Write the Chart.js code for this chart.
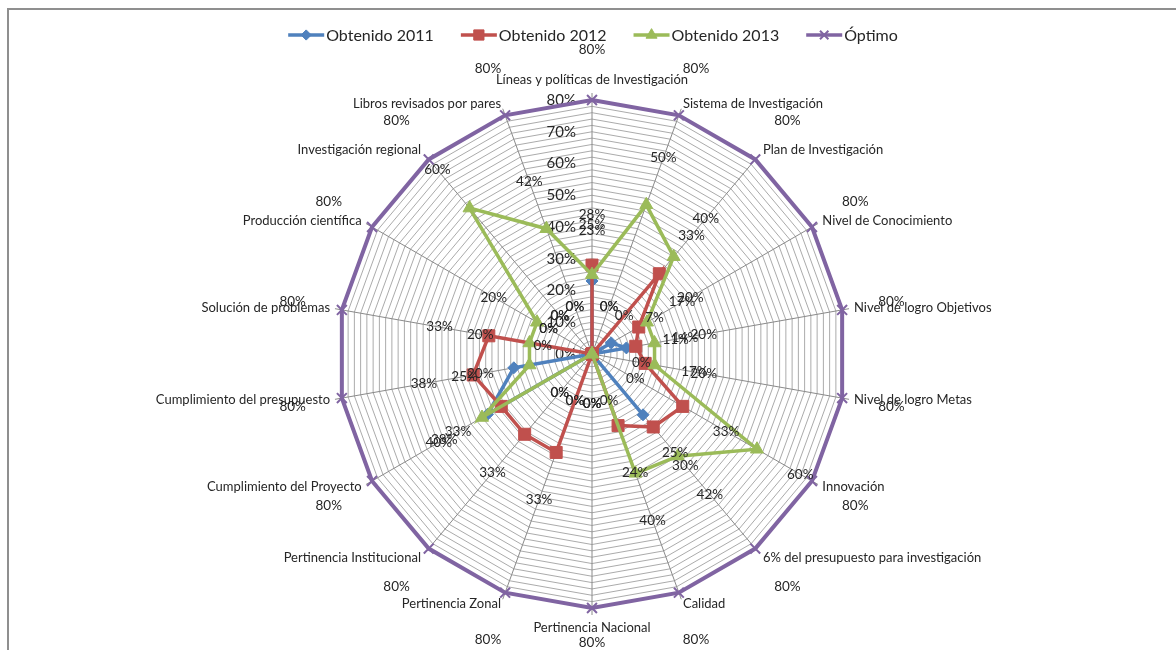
<!DOCTYPE html>
<html lang="es">
<head>
<meta charset="utf-8">
<title>Indicadores de investigación</title>
<script src="https://cdn.jsdelivr.net/npm/chart.js@4.4.1/dist/chart.umd.min.js"></script>
<style>
  html, body { margin: 0; padding: 0; background: #ffffff; }
  #wrap { width: 1176px; height: 650px; }
</style>
</head>
<body>
<div id="wrap"><canvas id="radar" width="1176" height="650"></canvas></div>
<script>
// Categories, clockwise from the top spoke
const categories = [
  'Líneas y políticas de Investigación',
  'Sistema de Investigación',
  'Plan de Investigación',
  'Nivel de Conocimiento',
  'Nivel de logro Objetivos',
  'Nivel de logro Metas',
  'Innovación',
  '6% del presupuesto para investigación',
  'Calidad',
  'Pertinencia Nacional',
  'Pertinencia Zonal',
  'Pertinencia Institucional',
  'Cumplimiento del Proyecto',
  'Cumplimiento del presupuesto',
  'Solución de problemas',
  'Producción científica',
  'Investigación regional',
  'Libros revisados por pares'
];

// Percentages per category
const obtenido2011 = [23, 0, 0, 7, 11, 0, 0, 25, 0, 0, 0, 0, 38, 25, 0, 0, 0, 0];
const obtenido2012 = [28, 0, 33, 17, 14, 17, 33, 30, 24, 0, 33, 33, 33, 38, 33, 0, 0, 0];
const obtenido2013 = [25, 50, 40, 20, 20, 20, 60, 42, 40, 0, 0, 0, 40, 20, 20, 20, 60, 42];
const optimo       = [80, 80, 80, 80, 80, 80, 80, 80, 80, 80, 80, 80, 80, 80, 80, 80, 80, 80];

// Axis labels shown along the top spoke
const tickValues = [0, 10, 20, 30, 40, 50, 60, 70, 80];

const seriesNames = ['Obtenido 2011', 'Obtenido 2012', 'Obtenido 2013', 'Óptimo'];
const seriesValues = [obtenido2011, obtenido2012, obtenido2013, optimo];
const seriesColors = ['#4F81BD', '#C0504D', '#9BBB59', '#8064A2'];
const seriesMarkers = ['rectRot', 'rect', 'triangle', 'crossRot'];
const markerRadius = [6, 8.5, 7.5, 7];

const FONT = 'Lato, "Open Sans", "DejaVu Sans", sans-serif';
const TEXT = '#262626';

function pct(v) { return v + '%'; }

// Background, frame, labels and legend drawn around the radar
const decorations = {
  id: 'decorations',
  beforeDraw(chart) {
    const ctx = chart.ctx;
    ctx.save();
    ctx.fillStyle = '#ffffff';
    ctx.fillRect(0, 0, chart.width, chart.height);
    ctx.strokeStyle = '#8f8f8f';
    ctx.lineWidth = 2;
    ctx.strokeRect(8, 9, chart.width + 20, chart.height + 20);
    ctx.restore();
  },
  beforeDatasetsDraw(chart) {
    const ctx = chart.ctx;
    const scale = chart.scales.r;
    const n = categories.length;
    ctx.save();
    // short tick marks continuing each spoke past the outer ring
    ctx.strokeStyle = '#8a8a8a';
    ctx.lineWidth = 1;
    for (let i = 0; i < n; i++) {
      const a = scale.getPointPosition(i, scale.drawingArea);
      const b = scale.getPointPosition(i, scale.drawingArea + 7);
      ctx.beginPath();
      ctx.moveTo(a.x, a.y);
      ctx.lineTo(b.x, b.y);
      ctx.stroke();
    }
    // category names
    ctx.fillStyle = TEXT;
    ctx.font = '13px ' + FONT;
    ctx.textBaseline = 'middle';
    for (let i = 0; i < n; i++) {
      const ang = i * 2 * Math.PI / n;
      const s = Math.sin(ang), c = Math.cos(ang);
      const p = scale.getPointPosition(i, scale.drawingArea + 12);
      let y = p.y;
      if (Math.abs(s) < 0.05) {
        ctx.textAlign = 'center';
        y += c > 0 ? -8 : 8;
      } else {
        ctx.textAlign = s > 0 ? 'left' : 'right';
      }
      ctx.fillText(categories[i], p.x, y);
    }
    // value axis labels, left of the top spoke
    ctx.font = '15px ' + FONT;
    ctx.textAlign = 'right';
    tickValues.forEach(v => {
      const d = scale.getDistanceFromCenterForValue(v);
      ctx.fillText(pct(v), scale.xCenter - 16, scale.yCenter - d);
    });
    ctx.restore();
  },
  afterDatasetsDraw(chart) {
    const ctx = chart.ctx;
    const scale = chart.scales.r;
    ctx.save();
    // data labels, pushed outward along each spoke
    ctx.fillStyle = TEXT;
    ctx.font = '13.5px ' + FONT;
    ctx.textAlign = 'center';
    ctx.textBaseline = 'middle';
    seriesValues.forEach(vals => {
      vals.forEach((v, i) => {
        const d = scale.getDistanceFromCenterForValue(v) + 50;
        const p = scale.getPointPosition(i, d);
        ctx.fillText(pct(v), p.x, Math.min(p.y, chart.height - 7));
      });
    });
    // legend: line sample with marker, then series name
    ctx.font = '16px ' + FONT;
    ctx.textAlign = 'left';
    const lineLen = 36, gapText = 2, gapItem = 27;
    const widths = seriesNames.map(s => lineLen + gapText + ctx.measureText(s).width);
    const total = widths.reduce((a, b) => a + b, 0) + gapItem * (seriesNames.length - 1);
    let x = 593 - total / 2;
    const y = 35;
    seriesNames.forEach((name, k) => {
      ctx.strokeStyle = seriesColors[k];
      ctx.fillStyle = seriesColors[k];
      ctx.lineWidth = 3.5;
      ctx.beginPath();
      ctx.moveTo(x, y);
      ctx.lineTo(x + lineLen, y);
      ctx.stroke();
      ctx.lineWidth = k === 3 ? 2 : 1;
      Chart.helpers.drawPoint(ctx, {
        pointStyle: seriesMarkers[k],
        radius: markerRadius[k] * 0.85,
        rotation: 0,
        borderWidth: k === 3 ? 2 : 1
      }, x + lineLen / 2, y);
      ctx.fillStyle = TEXT;
      ctx.fillText(name, x + lineLen + gapText, y + 1);
      x += widths[k] + gapItem;
    });
    ctx.restore();
  }
};

const datasets = seriesNames.map((name, k) => ({
  label: name,
  data: seriesValues[k],
  borderColor: seriesColors[k],
  backgroundColor: seriesColors[k],
  borderWidth: k === 3 ? 4 : 3.5,
  fill: false,
  pointStyle: seriesMarkers[k],
  pointRadius: markerRadius[k],
  pointBackgroundColor: seriesColors[k],
  pointBorderColor: seriesColors[k],
  pointBorderWidth: k === 3 ? 2 : 1,
  order: 4 - k
}));

new Chart(document.getElementById('radar'), {
  type: 'radar',
  data: { labels: categories, datasets },
  options: {
    responsive: false,
    animation: false,
    devicePixelRatio: 1,
    layout: { padding: { top: 100, bottom: 42, left: 338, right: 330 } },
    elements: { line: { tension: 0 } },
    plugins: {
      legend: { display: false },
      tooltip: { enabled: false }
    },
    scales: {
      r: {
        min: 0,
        max: 80,
        ticks: { stepSize: 2, display: false },
        grid: { color: '#ababab', lineWidth: 1 },
        angleLines: { color: '#8a8a8a', lineWidth: 1 },
        pointLabels: { display: false }
      }
    }
  },
  plugins: [decorations]
});
</script>
</body>
</html>
